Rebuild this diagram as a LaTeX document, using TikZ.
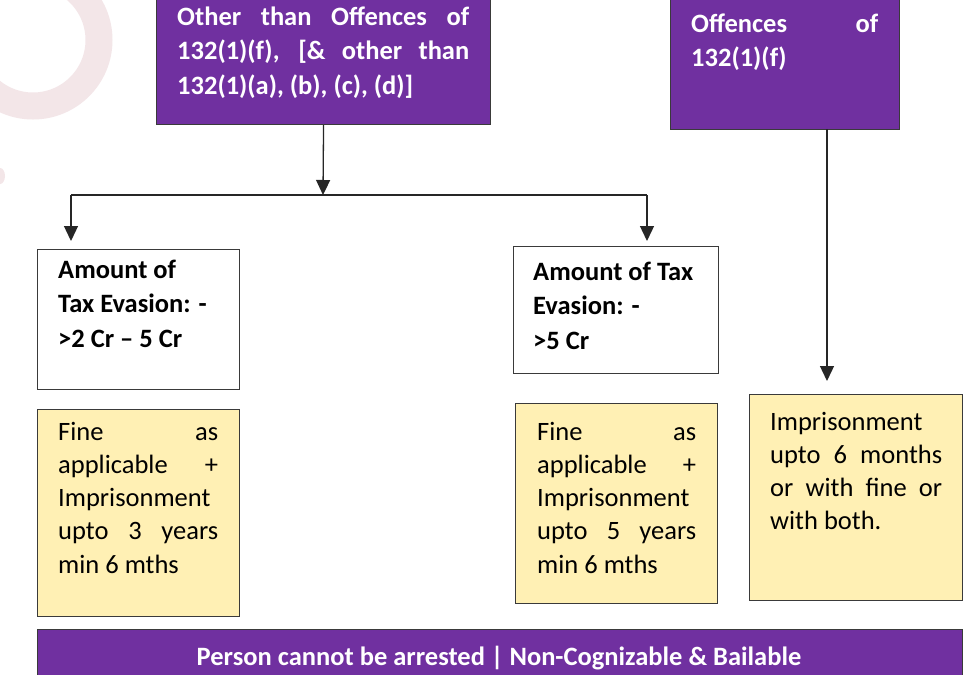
\documentclass[tikz,border=0pt]{standalone}
\usepackage{fontspec}
\setmainfont{Carlito}
\usetikzlibrary{arrows.meta}
\definecolor{boxpurple}{HTML}{7030A0}
\definecolor{notepad}{HTML}{FFF0B4}
\definecolor{rim}{HTML}{3A3A3A}
\definecolor{wire}{HTML}{262626}
\definecolor{wmark}{HTML}{F3E6E8}
% justified block with forced, stretched line ends
\newcommand{\justblock}[2]{\parbox[t]{#1}{\spaceskip=0pt\xspaceskip=0pt\hyphenpenalty=10000\relax #2}}
% ragged block with explicit line ends
\newcommand{\leftblock}[2]{\parbox[t]{#1}{\raggedright\spaceskip=0pt\xspaceskip=0pt #2}}
\tikzset{
  panel/.style={draw=rim, line width=1.1pt, anchor=north west, inner sep=0pt},
  head/.style={panel, fill=boxpurple},
  slab/.style={panel, fill=white},
  note/.style={panel, fill=notepad},
  txt/.style={anchor=base west, inner sep=0pt},
  boldtxt/.style={txt, font=\fontsize{26.5}{34.5}\selectfont\bfseries},
  plaintxt/.style={txt, font=\fontsize{26.5}{33.3}\selectfont},
  link/.style={draw=wire, line width=1.3pt},
  arr/.style={link, -{Triangle[width=14pt,length=15pt]}},
}
\begin{document}
\begin{tikzpicture}[x=1pt, y=-1pt]
\useasboundingbox (0,0) rectangle (970,675);
\clip (0,0) rectangle (970,675);
\fill[white] (0,0) rectangle (970,675);

% faint logo mark in the corner
\draw[wmark, line width=27pt] (33,40) circle (66pt);
\fill[wmark] (0,176) ellipse (5pt and 8pt);

% top headings
\node[head, minimum width=334pt, minimum height=129pt] (other) at (156,-5) {};
\node[boldtxt, text=white] (othertxt) at (177,25)
  {\justblock{292pt}{Other than Offences of\linebreak 132(1)(f), [\& other than\linebreak 132(1)(a), (b), (c), (d)]}};

\node[head, minimum width=229pt, minimum height=134pt] (off) at (670,-5) {};
\node[boldtxt, text=white] (offtxt) at (691,32)
  {\justblock{187pt}{Offences of\linebreak 132(1)(f)}};

% amount boxes
\node[slab, minimum width=202pt, minimum height=140pt] (amtA) at (37,249) {};
\node[boldtxt] (amtAtxt) at (58,278)
  {\leftblock{175pt}{Amount of\\Tax Evasion: -\\>2 Cr – 5 Cr}};

\node[slab, minimum width=205pt, minimum height=127pt] (amtB) at (513,246) {};
\node[boldtxt] (amtBtxt) at (533,280)
  {\leftblock{175pt}{Amount of Tax\\Evasion: -\\>5 Cr}};

% penalty notes
\node[note, minimum width=202pt, minimum height=207pt] (penA) at (37,409) {};
\node[plaintxt] (penAtxt) at (58,440)
  {\justblock{160pt}{Fine as\linebreak applicable +\linebreak Imprisonment\linebreak upto 3 years\linebreak min 6 mths}};

\node[note, minimum width=202pt, minimum height=200pt] (penB) at (515,403) {};
\node[plaintxt] (penBtxt) at (537,440)
  {\justblock{159pt}{Fine as\linebreak applicable +\linebreak Imprisonment\linebreak upto 5 years\linebreak min 6 mths}};

\node[note, minimum width=213pt, minimum height=206pt] (penC) at (749,394) {};
\node[plaintxt] (penCtxt) at (770,430)
  {\justblock{172pt}{Imprisonment\linebreak upto 6 months\linebreak or with fine or\linebreak with both.}};

% bottom banner
\node[head, minimum width=925pt, minimum height=60pt] (bar) at (37,629) {};
\node[anchor=base, inner sep=0pt, text=white, font=\fontsize{26.5}{32}\selectfont\bfseries] (bartxt) at (499,665)
  {Person cannot be arrested | Non-Cognizable \& Bailable};

% connectors
\coordinate (split) at (323,195);
\coordinate (splitL) at (71,195);
\coordinate (splitR) at (647,195);
\coordinate (dropL) at (71,241);
\coordinate (dropR) at (647,241);
\coordinate (offfoot) at (827,129);
\coordinate (offdrop) at (827,381);

\draw[arr] (other.south) -- (split);
\draw[link] (splitL) -- (splitR);
\draw[arr] (splitL) -- (dropL);
\draw[arr] (splitR) -- (dropR);
\draw[arr] (offfoot) -- (offdrop);
\end{tikzpicture}
\end{document}
